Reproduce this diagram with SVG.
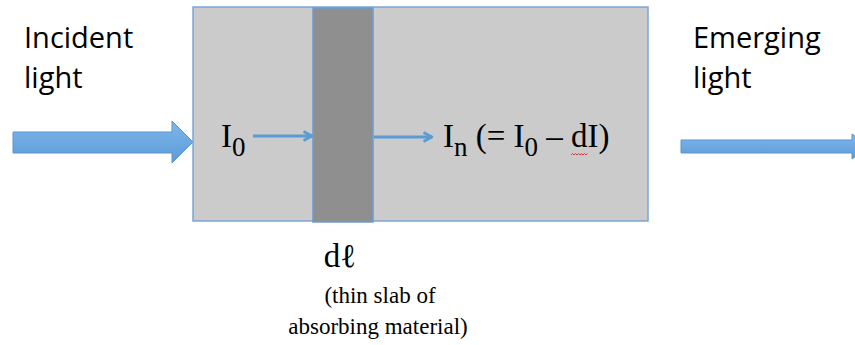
<svg xmlns="http://www.w3.org/2000/svg" width="855" height="345" viewBox="0 0 855 345">
<defs>
<linearGradient id="blue" x1="0" y1="0" x2="0" y2="1">
<stop offset="0" stop-color="#7fb6ec"/>
<stop offset="1" stop-color="#5b9bd8"/>
</linearGradient>
<marker id="ah" viewBox="0 0 12 12" refX="10.5" refY="6" markerWidth="12" markerHeight="12" markerUnits="userSpaceOnUse" orient="auto">
<path d="M2,1.5 L10.5,6 L2,10.5" fill="none" stroke="#5b9bd5" stroke-width="2.6" stroke-linejoin="round"/>
</marker>
<style>
.sans{font-family:"Open Sans","Liberation Sans",sans-serif;font-size:29px;fill:#000}
.serif{font-family:"Liberation Serif","Times New Roman",serif;fill:#000}
.conn{stroke:#5b9bd5;stroke-width:2.8;fill:none;marker-end:url(#ah)}
</style>
</defs>
<rect width="855" height="345" fill="#fff"/>
<g id="incident">
<text class="sans" x="24" y="48">Incident</text>
<text class="sans" x="24" y="88">light</text>
<path d="M13,132 H172 V121 L193,142 L172,163 V153 H13 Z" fill="url(#blue)" stroke="#5a96cf" stroke-width="1"/>
</g>
<g id="emerging">
<text class="sans" x="693" y="48">Emerging</text>
<text class="sans" x="693" y="88">light</text>
<path d="M681,140 H852 V134 L870,146.5 L852,159 V153 H681 Z" fill="url(#blue)" stroke="#5a96cf" stroke-width="1"/>
</g>
<g id="box">
<rect x="193" y="7" width="455" height="214" fill="#cbcbcb" stroke="#7aa6d6" stroke-width="1.5"/>
</g>
<g id="slab">
<rect x="313" y="8" width="60" height="214" fill="#8f8f8f" stroke="#6e9ccf" stroke-width="1.5"/>
</g>
<g id="connectors">
<line class="conn" x1="253" y1="136" x2="312" y2="136"/>
<line class="conn" x1="374" y1="137" x2="432" y2="137"/>
</g>
<g id="labels">
<text class="serif" font-size="33" x="221" y="147">I<tspan font-size="27" dy="9">0</tspan></text>
<text class="serif" font-size="33" x="443" y="147">I<tspan font-size="27" dy="9">n</tspan><tspan dy="-9"> (= I</tspan><tspan font-size="27" dy="9">0</tspan><tspan dy="-9"> – dI)</tspan></text>
<path d="M571,155 l1.5,-1.5 l1.5,1.5 l1.5,-1.5 l1.5,1.5 l1.5,-1.5 l1.5,1.5 l1.5,-1.5 l1.5,1.5 l1.5,-1.5 l1.5,1.5 l1.5,-1.5" fill="none" stroke="#e0242a" stroke-width="0.9"/>
<text class="serif" font-size="33" x="340" y="267" text-anchor="middle">dℓ</text>
<text class="serif" font-size="23" x="380" y="303" text-anchor="middle">(thin slab of</text>
<text class="serif" font-size="23" x="378" y="334" text-anchor="middle">absorbing material)</text>
</g>
</svg>
